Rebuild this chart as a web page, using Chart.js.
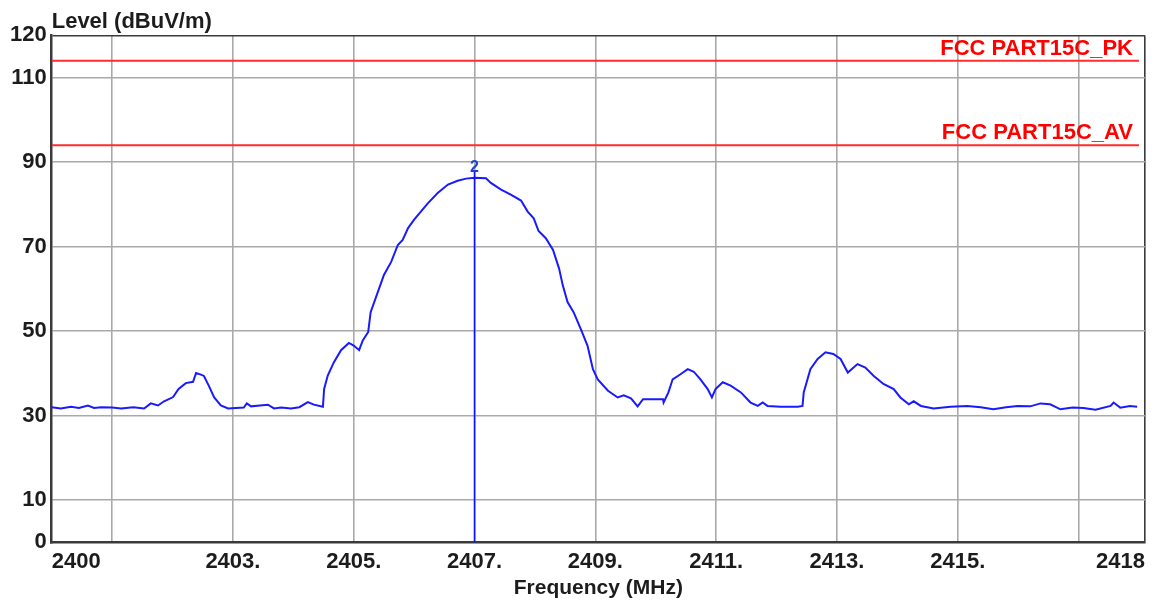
<!DOCTYPE html>
<html>
<head>
<meta charset="utf-8">
<title>Level (dBuV/m)</title>
<script src="https://cdn.jsdelivr.net/npm/chart.js@4.4.1/dist/chart.umd.min.js"></script>
<style>
  html, body { margin: 0; padding: 0; background: #fff; }
  #wrap { width: 1170px; height: 604px; }
</style>
</head>
<body>
<div id="wrap"><canvas id="chart" width="1170" height="604"></canvas></div>
<script>
// sweep trace, frequency in MHz / level in dBuV/m
const traceFreq = [
  2400.00, 2400.15, 2400.32, 2400.45, 2400.60, 2400.70, 2400.82, 2401.00, 2401.15, 2401.35,
  2401.53, 2401.64, 2401.76, 2401.86, 2402.01, 2402.10, 2402.22, 2402.34, 2402.39, 2402.47,
  2402.52, 2402.60, 2402.69, 2402.80, 2402.92, 2403.05, 2403.18, 2403.23, 2403.30, 2403.45,
  2403.58, 2403.68, 2403.80, 2403.96, 2404.10, 2404.24, 2404.34, 2404.49, 2404.51, 2404.57,
  2404.67, 2404.79, 2404.92, 2405.00, 2405.09, 2405.15, 2405.24, 2405.28, 2405.40, 2405.50,
  2405.62, 2405.73, 2405.81, 2405.90, 2406.00, 2406.23, 2406.39, 2406.56, 2406.72, 2406.86,
  2407.00, 2407.19, 2407.27, 2407.44, 2407.60, 2407.77, 2407.88, 2407.98, 2408.06, 2408.18,
  2408.30, 2408.40, 2408.46, 2408.54, 2408.64, 2408.76, 2408.87, 2408.96, 2409.04, 2409.21,
  2409.37, 2409.47, 2409.59, 2409.70, 2409.79, 2410.12, 2410.13, 2410.21, 2410.28, 2410.41,
  2410.53, 2410.63, 2410.74, 2410.86, 2410.93, 2410.99, 2411.11, 2411.24, 2411.41, 2411.57,
  2411.69, 2411.77, 2411.85, 2412.07, 2412.35, 2412.43, 2412.45, 2412.56, 2412.68, 2412.81,
  2412.94, 2413.06, 2413.18, 2413.34, 2413.47, 2413.61, 2413.77, 2413.94, 2414.05, 2414.19,
  2414.27, 2414.39, 2414.60, 2414.88, 2415.16, 2415.38, 2415.59, 2415.80, 2415.99, 2416.20,
  2416.37, 2416.53, 2416.70, 2416.90, 2417.08, 2417.28, 2417.53, 2417.58, 2417.69, 2417.85,
  2417.97
];
const traceLevel = [
  32.0, 31.7, 32.1, 31.8, 32.4, 31.8, 32.0, 31.9, 31.7, 32.0,
  31.7, 32.9, 32.4, 33.4, 34.4, 36.3, 37.7, 38.0, 40.1, 39.7,
  39.4, 37.1, 34.3, 32.4, 31.7, 31.8, 31.9, 32.9, 32.2, 32.4,
  32.6, 31.7, 31.9, 31.7, 32.0, 33.2, 32.6, 32.1, 36.3, 39.5,
  42.6, 45.5, 47.2, 46.6, 45.5, 47.8, 49.8, 54.5, 59.3, 63.3,
  66.4, 70.4, 71.6, 74.4, 76.4, 80.3, 82.7, 84.7, 85.6, 86.1,
  86.3, 86.2, 85.1, 83.5, 82.3, 80.9, 78.3, 76.7, 73.7, 72.0,
  69.2, 64.8, 60.9, 56.9, 54.5, 50.5, 46.6, 41.0, 38.6, 35.9,
  34.3, 34.8, 34.1, 32.2, 33.9, 33.9, 33.1, 35.5, 38.6, 39.8,
  41.0, 40.4, 38.6, 36.3, 34.3, 36.3, 37.9, 37.1, 35.5, 33.1,
  32.3, 33.1, 32.3, 32.1, 32.1, 32.3, 35.5, 41.0, 43.4, 45.0,
  44.6, 43.4, 40.2, 42.2, 41.4, 39.4, 37.5, 36.3, 34.3, 32.7,
  33.4, 32.3, 31.7, 32.1, 32.3, 32.0, 31.5, 32.0, 32.3, 32.2,
  32.9, 32.7, 31.5, 31.9, 31.8, 31.4, 32.3, 33.1, 31.9, 32.3,
  32.1
];

// limit lines
const limitNames = ['FCC PART15C_PK', 'FCC PART15C_AV'];
const limitLevels = [114, 94];

// peak marker
const markerLabel = '2';
const markerFreq = 2407.0;
const markerTop = 88;

// axes
const X_MIN = 2400;
const X_END = 2418;     // last sweep point
const X_MAX = 2418.1;   // frame edge
const xGridFreqs = [2401, 2403, 2405, 2407, 2409, 2411, 2413, 2415, 2417];
const xLabelFreqs = [2403, 2405, 2407, 2409, 2411, 2413, 2415];
const yTickValues = [0, 10, 30, 50, 70, 90, 110, 120];

const FONT = '"Liberation Sans", Arial, Helvetica, sans-serif';
const GRID = '#a9a9a9';
const FRAME = '#3a3a3a';
const TEXT = '#1c1c1c';

Chart.defaults.font.family = FONT;

const traceData = traceFreq.map((f, i) => ({ x: f, y: traceLevel[i] }));

const limitSets = limitLevels.map((lv, i) => ({
  label: limitNames[i],
  data: [{ x: X_MIN, y: lv }, { x: X_END, y: lv }],
  borderColor: 'rgb(255, 45, 45)',
  borderWidth: 1.8,
  pointRadius: 0
}));

// red limit names and marker number
const annotate = {
  id: 'annotate',
  afterDatasetsDraw(chart) {
    const { ctx, scales } = chart;
    const xs = scales.x, ys = scales.y;
    ctx.save();
    ctx.font = 'bold 22px ' + FONT;
    ctx.fillStyle = '#ff0000';
    ctx.textAlign = 'right';
    ctx.textBaseline = 'alphabetic';
    limitLevels.forEach((lv, i) => {
      ctx.fillText(limitNames[i], xs.getPixelForValue(X_END) - 6, ys.getPixelForValue(lv) - 6);
    });
    ctx.font = 'bold 16px ' + FONT;
    ctx.fillStyle = '#1f3fd0';
    ctx.textAlign = 'center';
    ctx.fillText(markerLabel, xs.getPixelForValue(markerFreq), ys.getPixelForValue(markerTop) + 1);
    ctx.restore();
  }
};

new Chart(document.getElementById('chart'), {
  type: 'line',
  data: {
    datasets: [
      {
        label: 'Marker ' + markerLabel,
        data: [{ x: markerFreq, y: 0 }, { x: markerFreq, y: markerTop }],
        borderColor: '#1010ff',
        borderWidth: 1.6,
        pointRadius: 0
      },
      {
        label: 'Level',
        data: traceData,
        borderColor: '#1a1aff',
        borderWidth: 2,
        pointRadius: 0,
        tension: 0
      },
      ...limitSets
    ]
  },
  options: {
    responsive: false,
    animation: false,
    layout: { padding: { left: 5, right: 25, top: 0, bottom: 3 } },
    plugins: {
      legend: { display: false },
      tooltip: { enabled: false },
      title: {
        display: true,
        text: 'Level (dBuV/m)',
        align: 'start',
        fullSize: false,
        color: TEXT,
        font: { size: 22, weight: 'bold' },
        padding: { top: 9, bottom: 0 }
      }
    },
    scales: {
      x: {
        type: 'linear',
        min: X_MIN,
        max: X_MAX,
        afterBuildTicks: s => {
          s.ticks = [X_MIN, ...xGridFreqs, X_MAX].map(v => ({ value: v }));
        },
        ticks: {
          autoSkip: false,
          maxRotation: 0,
          align: 'inner',
          padding: 6,
          color: TEXT,
          font: { size: 22, weight: 'bold' },
          callback: v => {
            if (v === X_MIN) return '2400';
            if (v === X_MAX) return '2418';
            return xLabelFreqs.includes(v) ? v + '.' : '';
          }
        },
        grid: {
          drawTicks: false,
          lineWidth: 1.6,
          color: c => {
            const v = c.tick ? c.tick.value : null;
            if (v === X_MIN) return 'transparent';
            if (v === X_MAX) return FRAME;
            return GRID;
          }
        },
        border: { display: true, color: FRAME, width: 2.5 },
        title: {
          display: true,
          text: 'Frequency (MHz)',
          color: TEXT,
          font: { size: 21, weight: 'bold' },
          padding: { top: -5, bottom: 0 }
        }
      },
      y: {
        min: 0,
        max: 120,
        afterBuildTicks: s => {
          s.ticks = yTickValues.map(v => ({ value: v }));
        },
        ticks: {
          padding: 5,
          color: TEXT,
          font: { size: 22, weight: 'bold' }
        },
        grid: {
          drawTicks: false,
          lineWidth: 1.6,
          color: c => {
            const v = c.tick ? c.tick.value : null;
            if (v === 0) return 'transparent';
            if (v === 120) return FRAME;
            return GRID;
          }
        },
        border: { display: true, color: FRAME, width: 2.5 }
      }
    }
  },
  plugins: [annotate]
});
</script>
</body>
</html>
